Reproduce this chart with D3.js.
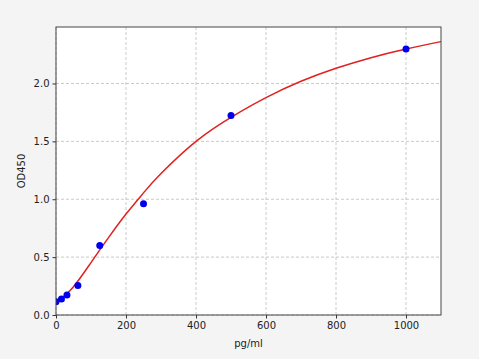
<!DOCTYPE html>
<html>
<head>
<meta charset="utf-8">
<script src="https://cdn.jsdelivr.net/npm/d3@7.9.0/dist/d3.min.js"></script>
<style>
  body { margin: 0; background: #fff; }
  svg { display: block; font-family: "DejaVu Sans", sans-serif; }
</style>
</head>
<body>
<svg id="chart" width="479" height="359"></svg>
<script>
// Standard points (concentration, OD)
const stdConc = [0, 15.6, 31.25, 62.5, 125, 250, 500, 1000];
const stdOD = [0.115, 0.138, 0.172, 0.255, 0.60, 0.962, 1.724, 2.298];

// Fitted curve
const curveConc = [0, 50, 100, 150, 200, 250, 300, 400, 500, 600, 700, 800, 900, 1000, 1100];
const curveOD = [0.10, 0.245, 0.453, 0.668, 0.872, 1.055, 1.222, 1.50, 1.708, 1.878, 2.019, 2.131, 2.223, 2.298, 2.362];

const xTicks = [0, 200, 400, 600, 800, 1000];
const yTicks = [0.0, 0.5, 1.0, 1.5, 2.0];

const svg = d3.select('#chart');
const W = 479, H = 359;
const margin = { top: 27, right: 38, bottom: 44, left: 56 };

svg.append('rect').attr('width', W).attr('height', H).attr('fill', '#f4f4f4');

const x = d3.scaleLinear().domain([0, 1100]).range([margin.left, W - margin.right]);
const y = d3.scaleLinear().domain([0, 2.488]).range([H - margin.bottom, margin.top]);
const plotW = x.range()[1] - margin.left;
const plotH = y.range()[0] - margin.top;

svg.append('clipPath').attr('id', 'plot-clip')
  .append('rect')
  .attr('x', margin.left).attr('y', margin.top)
  .attr('width', plotW).attr('height', plotH);

// plot background
svg.append('rect')
  .attr('x', margin.left).attr('y', margin.top)
  .attr('width', plotW).attr('height', plotH)
  .attr('fill', '#fff');

// grid
const grid = svg.append('g').attr('stroke', '#bdbdbd').attr('stroke-width', 0.8).attr('stroke-dasharray', '3,2');
grid.selectAll('line.gx').data(xTicks).enter().append('line')
  .attr('x1', d => x(d)).attr('x2', d => x(d))
  .attr('y1', y.range()[0]).attr('y2', y.range()[1]);
grid.selectAll('line.gy').data(yTicks).enter().append('line')
  .attr('y1', d => y(d)).attr('y2', d => y(d))
  .attr('x1', x.range()[0]).attr('x2', x.range()[1]);

// axes
const xAxis = svg.append('g')
  .attr('transform', `translate(0,${y.range()[0]})`)
  .call(d3.axisBottom(x).tickValues(xTicks).tickSize(3.5).tickPadding(3).tickFormat(d3.format('d')));
const yAxis = svg.append('g')
  .attr('transform', `translate(${margin.left},0)`)
  .call(d3.axisLeft(y).tickValues(yTicks).tickSize(3.5).tickPadding(3).tickFormat(d3.format('.1f')));
[xAxis, yAxis].forEach(a => {
  a.select('.domain').remove();
  a.selectAll('.tick line').attr('stroke', '#333');
  a.selectAll('.tick text').attr('fill', '#222').attr('font-size', 10);
  a.attr('font-family', null);
});

const plot = svg.append('g').attr('clip-path', 'url(#plot-clip)');

// curve
const line = d3.line()
  .x((d, i) => x(curveConc[i]))
  .y((d, i) => y(curveOD[i]))
  .curve(d3.curveNatural);
plot.append('path')
  .datum(curveConc)
  .attr('d', line)
  .attr('fill', 'none')
  .attr('stroke', '#e0211f')
  .attr('stroke-width', 1.5);

// points
plot.selectAll('circle.pt')
  .data(stdConc)
  .enter()
  .append('circle')
  .attr('cx', d => x(d))
  .attr('cy', (d, i) => y(stdOD[i]))
  .attr('r', 3.5)
  .attr('fill', '#0000ee');

// frame
svg.append('rect')
  .attr('x', margin.left).attr('y', margin.top)
  .attr('width', plotW).attr('height', plotH)
  .attr('fill', 'none').attr('stroke', '#444').attr('stroke-width', 1);

// labels
svg.append('text')
  .attr('x', (margin.left + x.range()[1]) / 2).attr('y', 347)
  .attr('text-anchor', 'middle').attr('font-size', 10).attr('fill', '#222')
  .text('pg/ml');
svg.append('text')
  .attr('transform', `translate(25,171) rotate(-90)`)
  .attr('text-anchor', 'middle').attr('font-size', 10).attr('fill', '#222')
  .text('OD450');
</script>
</body>
</html>
